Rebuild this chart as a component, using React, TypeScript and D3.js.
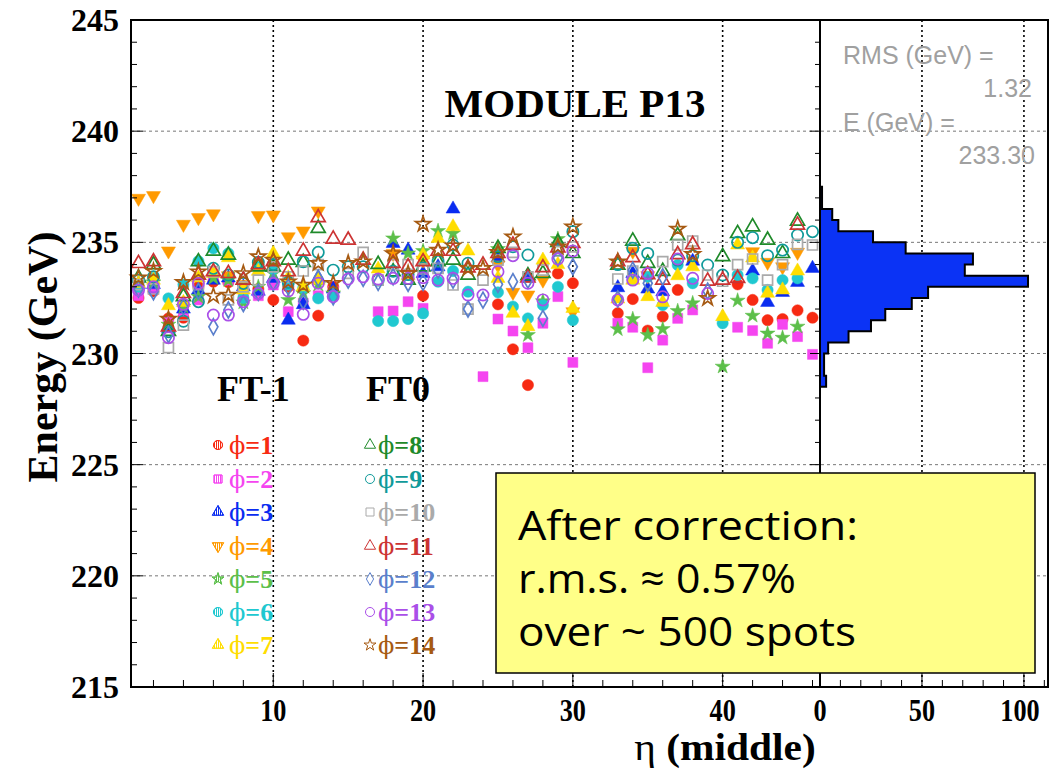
import React from "react";
import * as d3 from "d3";

const N = null;
// eta (middle) categories
const ETA = [1,2,3,4,5,6,7,8,9,10,11,12,13,14,15,16,17,18,19,20,21,22,23,24,25,26,27,28,29,30,31,32,33,34,35,36,37,38,39,40,41,42,43,44,45,46];

// FT-1
const PHI1 = [232.5,232.8,231.58,231.61,233.0,233.23,233.2,232.9,232.9,232.41,233.0,230.58,231.7,233.0,N,N,N,N,N,232.6,N,N,N,N,232.21,230.19,228.58,N,233.6,233.16,N,N,231.81,232.45,231.03,231.66,232.86,N,N,N,233.11,232.41,231.5,231.55,231.94,231.61];
const PHI2 = [232.6,232.9,231.43,231.9,232.41,233.5,233.3,232.7,232.6,233.08,231.88,232.26,232.6,232.8,N,N,231.88,231.91,232.33,232.03,N,N,N,228.96,231.55,231.01,230.26,231.36,232.56,229.6,N,N,231.36,231.18,229.36,230.6,231.58,231.96,N,N,231.18,231.03,230.46,231.31,230.76,229.96];
const PHI3 = [233.1,233.1,231.13,232.0,232.85,233.3,233.4,233.0,232.8,233.38,231.5,232.2,233.4,232.9,N,N,N,234.95,234.65,233.6,233.9,236.5,N,N,234.3,N,233.4,N,235.0,N,N,N,232.96,233.6,232.9,232.78,N,234.15,N,N,N,233.71,232.3,232.75,233.2,233.83];
const PHI4 = [236.98,237.1,234.61,235.81,236.11,236.28,233.5,233.1,236.2,236.23,235.25,235.51,236.41,N,N,N,N,234.5,N,234.2,N,N,N,N,233.98,232.75,232.63,233.3,N,231.88,N,N,N,234.6,233.5,N,N,N,N,N,N,234.58,234.1,233.9,234.55,N];
const PHI5 = [233.2,233.2,231.3,232.1,232.55,233.4,233.3,232.3,233.0,233.6,232.41,232.71,233.1,232.7,N,N,N,235.18,234.5,234.61,235.51,235.4,N,N,234.7,N,230.83,232.35,235.15,N,N,N,231.09,231.55,230.83,231.1,231.91,232.26,N,229.41,232.38,231.7,230.9,230.71,231.21,N];
const PHI6 = [233.0,233.4,232.48,233.1,234.15,234.73,234.5,232.5,233.9,233.8,233.1,232.95,232.48,232.6,N,N,231.46,231.46,231.55,231.8,233.23,233.71,232.78,N,232.75,232.11,231.58,232.18,233.0,231.5,N,N,N,233.35,233.45,232.18,233.98,233.16,N,231.36,233.53,233.38,232.86,233.3,233.38,N];
const PHI7 = [233.15,233.3,232.15,232.3,233.4,233.6,234.31,232.86,233.7,234.5,233.4,233.0,233.3,N,N,N,233.8,N,233.5,234.43,235.18,235.7,234.61,N,233.38,231.81,231.21,234.2,234.0,232.03,N,N,232.45,233.3,232.56,232.3,233.5,233.9,N,231.66,234.88,234.3,232.71,232.86,233.71,N];
// FT0
const PHI8 = [233.4,234.0,231.0,232.56,234.13,234.61,234.43,233.3,233.9,233.9,234.2,234.1,235.63,N,N,N,234.01,233.68,233.3,233.9,234.13,234.2,233.53,N,234.73,N,233.5,233.6,235.0,234.5,N,N,233.98,235.06,234.06,233.7,235.3,N,N,234.36,235.4,235.7,235.1,234.5,235.96,N];
const PHI9 = [233.3,233.45,230.98,231.45,232.33,233.83,233.53,233.15,234.1,234.0,233.2,234.13,234.55,233.75,233.9,233.9,233.3,233.7,233.55,233.85,234.15,234.88,234.06,N,234.36,234.8,234.43,N,234.65,235.48,N,N,234.0,234.73,234.5,N,234.2,234.4,233.98,233.53,235.0,235.21,234.4,234.65,235.33,235.48];
const PHI10 = [233.1,232.9,230.26,231.28,233.1,233.68,232.41,233.0,233.3,233.9,233.45,233.71,234.0,N,233.6,234.55,233.3,234.0,234.0,233.8,233.83,233.08,232.0,233.3,234.2,234.55,233.45,233.75,234.6,234.8,N,N,233.35,233.71,N,234.13,234.88,235.06,233.53,233.25,234.0,234.25,233.3,234.0,234.91,234.88];
const PHI11 = [234.05,234.13,231.2,232.7,233.53,233.68,233.6,233.3,234.0,234.13,233.68,234.61,236.11,235.15,235.1,234.2,N,234.06,233.9,234.13,234.6,234.6,233.85,233.98,234.5,234.88,233.4,233.86,234.75,234.95,N,N,234.13,234.31,233.55,233.3,234.45,234.9,233.26,233.3,233.38,N,N,N,235.78,N];
const PHI12 = [232.9,232.78,230.85,232.1,232.8,231.2,231.96,232.25,232.75,233.2,233.0,232.35,233.38,232.55,233.3,233.38,233.2,233.45,233.16,233.2,233.75,233.3,232.0,232.4,233.11,233.23,233.3,231.58,234.3,233.9,N,N,232.45,233.75,233.16,233.45,N,N,232.8,N,N,N,N,N,N,N];
const PHI13 = [232.85,233.0,230.71,232.21,233.16,231.73,231.73,232.33,232.7,233.15,232.81,231.76,233.16,232.56,233.35,233.45,233.35,233.38,233.38,233.41,233.3,233.38,232.63,232.63,233.68,234.4,233.16,232.41,234.25,234.61,N,N,232.41,233.3,233.6,232.55,234.25,233.38,232.7,N,N,N,N,N,N,N];
const PHI14 = [233.4,233.7,231.55,233.2,233.68,232.59,232.63,233.6,234.36,234.2,233.23,233.08,234.06,233.16,234.06,234.13,N,234.5,233.6,235.82,234.65,234.85,233.83,233.83,234.55,235.25,N,N,234.8,235.7,N,N,234.13,N,N,N,235.6,234.46,232.48,N,N,N,N,N,N,N];

const SERIES = [PHI1,PHI2,PHI3,PHI4,PHI5,PHI6,PHI7,PHI8,PHI9,PHI10,PHI11,PHI12,PHI13,PHI14];
const PHI_LABELS = ["1","2","3","4","5","6","7","8","9","10","11","12","13","14"];
const COLORS = ["#f72a12","#f545f0","#0a2cf0","#ff9a00","#5cbf4a","#20c8d0","#ffdd00","#1f8a2a","#109a9a","#aaaaaa","#cc3333","#5a7fcc","#aa4fe8","#a65a12"];
const SHAPES = ["circle","square","triangle","tridown","star","circle","triangle","triangle","circle","square","triangle","diamond","circle","star"];
const FILLED = [true,true,true,true,true,true,true,false,false,false,false,false,false,false];

// histogram (bin lower edge, counts)
const HIST_LO = [237.0,236.5,236.0,235.5,235.0,234.5,234.0,233.5,233.0,232.5,232.0,231.5,231.0,230.5,230.0,229.5,229.0,228.5];
const HIST_COUNT = [1,1,6,9,26,42,75,71,102,53,45,32,25,14,4,2,2,3];
const HIST_BIN = 0.5;

const Y_TICKS = [215,220,225,230,235,240,245];
const X_TICKS = [10,20,30,40];
const H_TICKS = [0,50,100];

const BOX_LINES = ["After correction:", "r.m.s. \u2248 0.57%", "over ~ 500 spots"];

const W = 1063, H = 770;
const L = 131, R = 820, HR = 1048, T = 20, B = 687;

const x = d3.scaleLinear().domain([0.5, 46.5]).range([L, R]);
const y = d3.scaleLinear().domain([215, 245]).range([B, T]);
const hx = d3.scaleLinear().domain([0, 111.8]).range([R, HR]);

function markerPath(shape: string, scale = 1): string {
  const s = scale;
  switch (shape) {
    case "circle": return d3.symbol().type(d3.symbolCircle).size(100 * s * s)() as string;
    case "square": return d3.symbol().type(d3.symbolSquare).size(100 * s * s)() as string;
    case "triangle": return d3.symbol().type(d3.symbolTriangle).size(85 * s * s)() as string;
    case "tridown": return d3.symbol().type(d3.symbolTriangle).size(85 * s * s)() as string;
    case "star": return d3.symbol().type(d3.symbolStar).size(70 * s * s)() as string;
    case "diamond": {
      const w = 4.5 * s, h = 8 * s;
      return `M0,${-h}L${w},0L0,${h}L${-w},0Z`;
    }
  }
  return "";
}

function Marker({ cx, cy, i, scale = 1, legend = false }: { cx: number; cy: number; i: number; scale?: number; legend?: boolean }) {
  const shape = SHAPES[i];
  const filled = FILLED[i];
  const rot = shape === "tridown" ? " rotate(180)" : "";
  const c = COLORS[i];
  return (
    <path
      d={markerPath(shape, scale)}
      transform={`translate(${cx},${cy})${rot}`}
      fill={filled ? (legend ? "#ffffff" : c) : "none"}
      stroke={c}
      strokeWidth={legend ? 1 : filled ? 0.5 : 1.7}
    />
  );
}

export default function App() {
  const minorY = d3.range(215, 246, 1);
  const minorX = d3.range(2, 47, 2);
  const minorH = d3.range(0, 111, 10);

  // histogram step path
  let hp = `M${R},${y(HIST_LO[0] + HIST_BIN)}`;
  HIST_LO.forEach((lo, k) => {
    const xx = hx(HIST_COUNT[k]);
    hp += `L${xx},${y(lo + HIST_BIN)}L${xx},${y(lo)}`;
  });
  hp += `L${R},${y(HIST_LO[HIST_LO.length - 1])}Z`;

  const serif = "'Liberation Serif', 'Times New Roman', serif";
  const legendRows = [445, 479, 512, 546, 579, 612, 645];
  const boxLens = [340, 278, 338];

  return (
    <svg width={W} height={H} style={{ position: "absolute", left: 0, top: 0, background: "#fff" }}>
      <defs>
        {COLORS.map((c, i) => (
          <pattern key={i} id={`hatch${i}`} width="2" height="2" patternUnits="userSpaceOnUse">
            <rect width="1" height="2" fill={c} />
          </pattern>
        ))}
      </defs>
      <rect x={0} y={0} width={W} height={H} fill="#fff" />

      {/* horizontal grid */}
      {[220, 225, 230, 235, 240].map((v) => (
        <line key={v} x1={L} x2={HR} y1={y(v)} y2={y(v)} stroke="#777" strokeWidth={1} strokeDasharray="3,3" />
      ))}
      {/* vertical grid */}
      {X_TICKS.map((v) => (
        <line key={v} x1={x(v)} x2={x(v)} y1={T} y2={B} stroke="#000" strokeWidth={1.6} strokeDasharray="2,3" />
      ))}
      {[50, 100].map((v) => (
        <line key={v} x1={hx(v)} x2={hx(v)} y1={T} y2={B} stroke="#000" strokeWidth={1.6} strokeDasharray="2,3" />
      ))}

      {/* histogram */}
      <path d={hp} fill="#0b33f5" stroke="#000" strokeWidth={2} />

      {/* scatter points */}
      {SERIES.map((arr, i) =>
        arr.map((v, k) =>
          v == null ? null : <Marker key={`${i}-${k}`} cx={x(ETA[k])} cy={y(v)} i={i} />
        )
      )}

      {/* frames */}
      <rect x={L} y={T} width={R - L} height={B - T} fill="none" stroke="#000" strokeWidth={2} />
      <rect x={R} y={T} width={HR - R} height={B - T} fill="none" stroke="#000" strokeWidth={2} />

      {/* y ticks */}
      {minorY.map((v) => (
        <g key={v}>
          <line x1={L} x2={L + (v % 5 === 0 ? 12 : 6)} y1={y(v)} y2={y(v)} stroke="#000" strokeWidth={1} />
          <line x1={R} x2={R - (v % 5 === 0 ? 10 : 5)} y1={y(v)} y2={y(v)} stroke="#000" strokeWidth={1} />
        </g>
      ))}
      {/* x ticks */}
      {minorX.map((v) => (
        <line key={v} x1={x(v)} x2={x(v)} y1={B} y2={B - (v % 10 === 0 ? 14 : 7)} stroke="#000" strokeWidth={1} />
      ))}
      {minorH.map((v) => (
        <line key={v} x1={hx(v)} x2={hx(v)} y1={B} y2={B - (v % 50 === 0 ? 14 : 7)} stroke="#000" strokeWidth={1} />
      ))}

      {/* y tick labels */}
      {Y_TICKS.map((v) => (
        <text key={v} x={119} y={y(v) + 11} textAnchor="end" fontFamily={serif} fontWeight="bold" fontSize={32}>{v}</text>
      ))}
      {/* x tick labels */}
      {X_TICKS.map((v) => (
        <text key={v} transform={`translate(${x(v)},721) scale(0.82,1)`} textAnchor="middle" fontFamily={serif} fontWeight="bold" fontSize={32}>{v}</text>
      ))}
      {H_TICKS.map((v) => (
        <text key={v} transform={`translate(${v === 100 ? hx(v) - 4 : hx(v)},721) scale(0.82,1)`} textAnchor="middle" fontFamily={serif} fontWeight="bold" fontSize={32}>{v}</text>
      ))}

      {/* axis titles */}
      <text transform="translate(57,357) rotate(-90)" textAnchor="middle" fontFamily={serif} fontWeight="bold" fontSize={42}>Energy (GeV)</text>
      <text transform="translate(725,760) scale(1.12,1)" textAnchor="middle" fontFamily={serif} fontWeight="bold" fontSize={37}>
        <tspan fontWeight="normal">η</tspan> (middle)
      </text>

      {/* title */}
      <text x={575} y={117} textAnchor="middle" fontFamily={serif} fontWeight="bold" fontSize={41}>MODULE P13</text>

      {/* stats */}
      <g fontFamily="'Liberation Sans', Arial, sans-serif" fill="#a0a0a0" fontSize={25}>
        <text x={843} y={64}>RMS (GeV) =</text>
        <text x={1032} y={97} textAnchor="end">1.32</text>
        <text x={843} y={131}>E (GeV) =</text>
        <text x={1035} y={164} textAnchor="end">233.30</text>
      </g>

      {/* FT labels */}
      <text x={217} y={401} fontFamily={serif} fontWeight="bold" fontSize={36}>FT-1</text>
      <text x={366} y={401} fontFamily={serif} fontWeight="bold" fontSize={36}>FT0</text>

      {/* legend */}
      {PHI_LABELS.map((lab, i) => {
        const col = i < 7 ? 0 : 1;
        const row = i % 7;
        const mx = col === 0 ? 218 : 370;
        const tx = col === 0 ? 229 : 378;
        const cy = legendRows[row];
        return (
          <g key={lab}>
            <Marker cx={mx} cy={cy} i={i} scale={0.8} legend />
            {FILLED[i] ? (
              <path d={markerPath(SHAPES[i], 0.8)} transform={`translate(${mx},${cy})${SHAPES[i] === "tridown" ? " rotate(180)" : ""}`} fill={`url(#hatch${i})`} stroke={COLORS[i]} strokeWidth={0.8} />
            ) : null}
            <text x={tx} y={cy + 9} fontFamily={serif} fontSize={26} fill={COLORS[i]}>
              <tspan fontFamily="'DejaVu Serif', serif" fontSize={24}>{"\u03D5"}</tspan>
              <tspan fontWeight="bold">={lab}</tspan>
            </text>
          </g>
        );
      })}

      {/* annotation box */}
      <rect x={496} y={473} width={539} height={200} fill="#ffff88" stroke="#000" strokeWidth={1.5} />
      <g fontFamily="'Open Sans', 'DejaVu Sans', sans-serif" fontSize={41} fill="#000">
        {BOX_LINES.map((t, k) => (
          <text key={k} x={518} y={540 + k * 53} textLength={boxLens[k]} lengthAdjust="spacingAndGlyphs">{t}</text>
        ))}
      </g>
    </svg>
  );
}
